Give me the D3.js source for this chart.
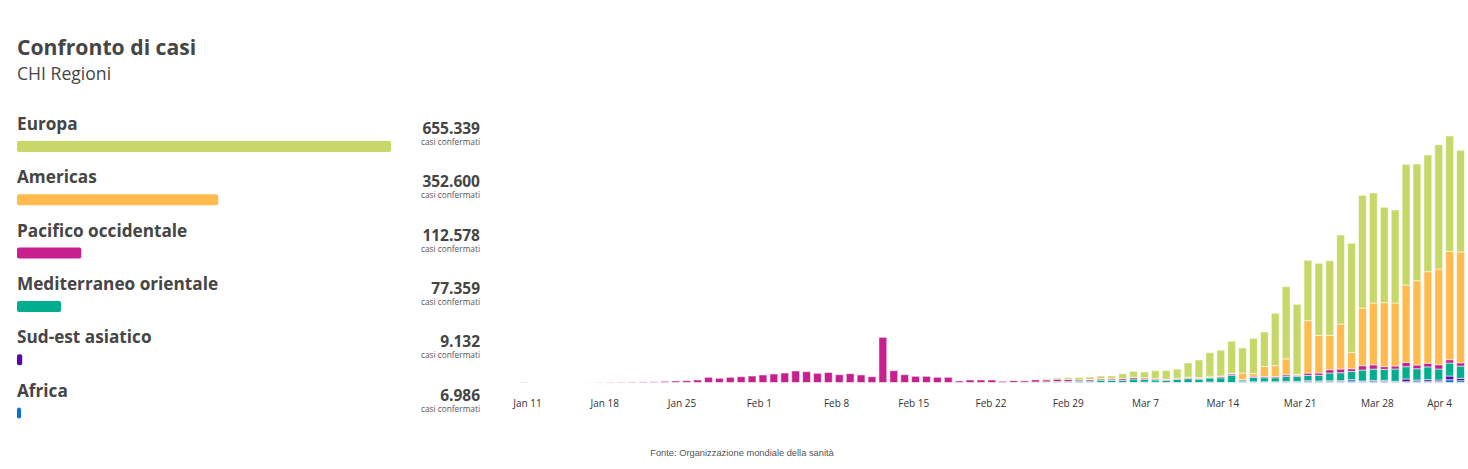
<!DOCTYPE html>
<html>
<head>
<meta charset="utf-8">
<title>Confronto di casi</title>
<style>
  body { margin: 0; background: #fff; }
  svg { display: block; font-family: "Open Sans", sans-serif; }
  .reg-name { font-weight: 700; font-size: 17.2px; fill: #454545; }
  .reg-num { font-weight: 700; font-size: 15.5px; fill: #454545; text-anchor: end; }
  .reg-sub { font-size: 8.3px; fill: #555; text-anchor: end; }
  .x-axis text { font-size: 10px; fill: #333; font-family: "Open Sans", sans-serif; }
</style>
</head>
<body>
<svg width="1468" height="469"></svg>
<script src="https://cdnjs.cloudflare.com/ajax/libs/d3/7.8.5/d3.min.js"></script>
<script>
// regioni OMS, totali cumulativi
var regions = ["Europa", "Americas", "Pacifico occidentale", "Mediterraneo orientale", "Sud-est asiatico", "Africa"];
var totals = [655339, 352600, 112578, 77359, 9132, 6986];
var colors = ["#c7d868", "#ffbb4d", "#c71f8e", "#00ad8e", "#5b07a5", "#0a6fd8"];

// nuovi casi giornalieri, 11 gen - 6 apr
var europa = [
  0, 0, 0, 0, 0, 0, 0, 0, 0, 0,
  0, 0, 0, 0, 0, 0, 0, 0, 0, 0,
  0, 0, 0, 0, 0, 0, 0, 0, 0, 0,
  0, 0, 0, 0, 0, 0, 0, 0, 0, 0,
  0, 0, 0, 0, 0, 70, 100, 170, 330, 430,
  570, 830, 830, 900, 930, 1600, 2000, 1960, 2660, 2900,
  3000, 4760, 5890, 7830, 8590, 10660, 8330, 11690, 11460, 17450,
  24040, 23310, 20110, 23980, 24840, 29640, 36300, 37530, 36630, 31770,
  30970, 40190, 38860, 38860, 41390, 38390, 33870];
var americas = [
  0, 0, 0, 0, 0, 0, 0, 0, 0, 0,
  0, 0, 0, 0, 0, 0, 0, 0, 0, 0,
  0, 0, 0, 0, 0, 0, 0, 0, 0, 0,
  0, 0, 0, 0, 0, 0, 0, 0, 0, 0,
  0, 0, 0, 0, 0, 0, 0, 0, 0, 0,
  0, 0, 70, 70, 70, 100, 70, 70, 70, 100,
  100, 170, 330, 430, 170, 230, 2230, 900, 3330, 3560,
  5330, 330, 17450, 12550, 11460, 14990, 5460, 19210, 20580, 21280,
  20980, 25770, 28070, 30470, 31870, 36100, 36900];
var pacifico = [
  100, 0, 0, 0, 0, 0, 30, 60, 100, 150,
  170, 200, 230, 400, 500, 600, 830, 1730, 1400, 1730,
  1930, 2160, 2500, 2830, 3160, 3830, 3600, 3060, 3330, 2600,
  2930, 2500, 1930, 15050, 3930, 2600, 2060, 2060, 1730, 1730,
  500, 830, 830, 830, 400, 600, 530, 770, 670, 770,
  670, 430, 500, 430, 500, 570, 500, 430, 330, 330,
  330, 330, 200, 170, 430, 430, 100, 430, 430, 430,
  570, 430, 770, 770, 1100, 1230, 900, 1430, 1430, 900,
  1000, 1430, 1230, 1230, 1430, 1100, 1100];
var mediterraneo = [
  0, 0, 0, 0, 0, 0, 0, 0, 0, 0,
  0, 0, 0, 0, 0, 0, 0, 0, 0, 0,
  0, 0, 0, 0, 0, 0, 0, 0, 0, 0,
  0, 0, 0, 0, 0, 0, 0, 0, 0, 0,
  0, 0, 0, 0, 0, 70, 100, 170, 230, 330,
  330, 430, 430, 770, 670, 670, 1170, 930, 770, 670,
  1000, 1270, 1100, 1330, 1570, 2430, 570, 1430, 1330, 1330,
  1570, 1570, 1770, 1900, 2560, 2660, 2760, 3660, 3760, 3660,
  4100, 4100, 3760, 4230, 3660, 4330, 4100];
var sudEst = [
  0, 0, 0, 0, 0, 0, 0, 0, 0, 0,
  0, 0, 0, 0, 0, 0, 0, 0, 0, 0,
  0, 0, 0, 0, 0, 0, 0, 0, 0, 0,
  0, 0, 0, 0, 0, 0, 0, 0, 0, 0,
  0, 0, 0, 0, 0, 0, 0, 0, 0, 0,
  0, 0, 0, 0, 0, 0, 0, 70, 70, 0,
  0, 0, 0, 100, 0, 0, 170, 130, 130, 130,
  200, 200, 330, 170, 330, 270, 430, 170, 430, 330,
  130, 900, 330, 570, 430, 1230, 770];
var africa = [
  0, 0, 0, 0, 0, 0, 0, 0, 0, 0,
  0, 0, 0, 0, 0, 0, 0, 0, 0, 0,
  0, 0, 0, 0, 0, 0, 0, 0, 0, 0,
  0, 0, 0, 0, 0, 0, 0, 0, 0, 0,
  0, 0, 0, 0, 0, 0, 0, 0, 0, 0,
  0, 0, 0, 0, 0, 0, 0, 70, 30, 0,
  0, 0, 0, 70, 0, 0, 100, 130, 130, 130,
  200, 200, 270, 330, 270, 330, 500, 330, 270, 400,
  270, 270, 500, 400, 400, 930, 600];

var dates = d3.timeDay.range(new Date(2020, 0, 11), new Date(2020, 3, 7));
var series = [europa, americas, pacifico, mediterraneo, sudEst, africa];

var svg = d3.select("svg");

// titolo
svg.append("text").attr("x", 17).attr("y", 55)
  .style("font-size", "21.2px").style("font-weight", 700).style("fill", "#454545")
  .text("Confronto di casi");
svg.append("text").attr("x", 17).attr("y", 80)
  .style("font-size", "17.6px").style("fill", "#454545")
  .text("CHI Regioni");

// pannello sinistro
var rowY = d3.scaleLinear().domain([0, 1]).range([0, 53.3]);
var wScale = d3.scaleLinear().domain([0, d3.max(totals)]).range([0, 374]);

var rows = svg.append("g").selectAll("g")
  .data(regions)
  .enter().append("g")
  .attr("transform", (d, i) => "translate(0," + rowY(i) + ")");

rows.append("text").attr("class", "reg-name")
  .attr("x", 17).attr("y", 130)
  .text(d => d);
rows.append("rect")
  .attr("x", 17).attr("y", 141)
  .attr("height", 11).attr("rx", 2)
  .attr("width", (d, i) => wScale(totals[i]))
  .attr("fill", (d, i) => colors[i]);
rows.append("text").attr("class", "reg-num")
  .attr("x", 480).attr("y", 134)
  .text((d, i) => d3.format(",")(totals[i]).replace(/,/g, "."));
rows.append("text").attr("class", "reg-sub")
  .attr("x", 480).attr("y", 145)
  .text("casi confermati");

// grafico a barre impilate
var table = dates.map(function(d, i) {
  var row = { date: d };
  regions.forEach(function(r, j) { row[r] = series[j][i]; });
  return row;
});
var keys = regions.slice().reverse(); // Africa in basso
var stacked = d3.stack().keys(keys)(table);

var x = d3.scaleBand()
  .domain(dates)
  .range([517.7, 1466])
  .paddingInner(0.28)
  .paddingOuter(0.14);

var y = d3.scaleLinear()
  .domain([0, d3.max(table, d => d3.sum(regions, r => d[r]))])
  .range([382.5, 136]);

var color = d3.scaleOrdinal().domain(regions).range(colors);

svg.append("g").selectAll("g")
  .data(stacked)
  .enter().append("g")
  .attr("fill", d => color(d.key))
  .selectAll("rect")
  .data(d => d.filter(p => p[1] > p[0]))
  .enter().append("rect")
  .attr("x", d => x(d.data.date))
  .attr("width", x.bandwidth())
  .attr("y", d => y(d[1]))
  .attr("height", d => y(d[0]) - y(d[1]))
  .attr("stroke", "#fff")
  .attr("stroke-opacity", 0.55)
  .attr("stroke-width", 1);

// asse x
var xt = d3.scaleTime()
  .domain([new Date(2020, 0, 11), new Date(2020, 3, 4)])
  .range([527, 1454]);
var ticks = d3.timeSaturday.range(new Date(2020, 0, 11), new Date(2020, 3, 5));

var ax = svg.append("g").attr("class", "x-axis")
  .attr("transform", "translate(0,397)")
  .call(d3.axisBottom(xt).tickValues(ticks).tickFormat(d3.timeFormat("%b %-d")).tickSize(0));
ax.select(".domain").remove();
ax.selectAll("text").attr("dy", "0.71em").attr("y", 3)
  .each(function() {
    var w = this.getComputedTextLength();
    var t = d3.select(this.parentNode).attr("transform");
    var cx = +t.match(/translate\(([-\d.]+)/)[1];
    if (cx + w / 2 > 1452) d3.select(this).attr("x", 1452 - w / 2 - cx);
  });

// fonte
svg.append("text").attr("x", 742).attr("y", 456)
  .attr("text-anchor", "middle")
  .style("font-family", "'Liberation Sans', Arial, sans-serif")
  .style("font-size", "9.3px").style("fill", "#555")
  .text("Fonte: Organizzazione mondiale della sanità");
</script>
</body>
</html>
